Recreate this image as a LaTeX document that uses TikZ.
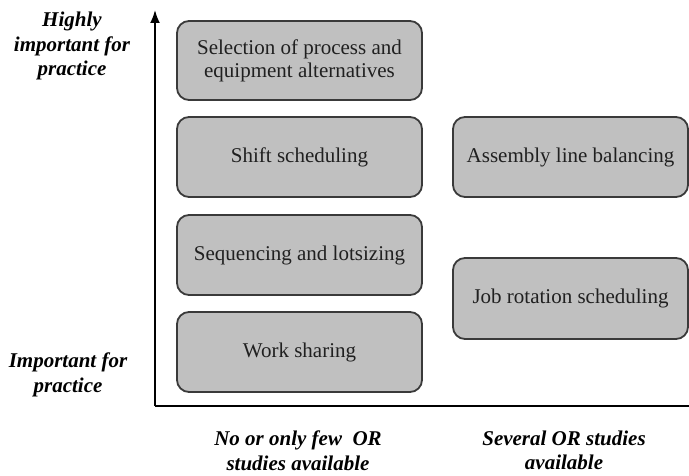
\documentclass[tikz,border=0pt]{standalone}
\usepackage{fontspec}
\setmainfont{Liberation Serif}
\usetikzlibrary{arrows.meta}
\definecolor{boxfill}{HTML}{C0C0C0}
\definecolor{boxline}{HTML}{3A3A3A}
\definecolor{boxtext}{HTML}{202020}
\begin{document}
\begin{tikzpicture}[x=1pt,y=-1pt,
  topic/.style={draw=boxline, line width=1.8pt, fill=boxfill, rounded corners=12pt,
    minimum height=80pt, inner sep=0pt, align=center, text=boxtext,
    font=\fontsize{21}{23}\selectfont},
  leftcol/.style={topic, minimum width=245pt},
  rightcol/.style={topic, minimum width=235pt},
  axislabel/.style={align=center, inner sep=0pt,
    font=\fontsize{21}{24.5}\selectfont\bfseries\itshape},
  axis/.style={line width=1.8pt, draw=black}]
  \useasboundingbox (0,0) rectangle (689,476);

  % axes
  \coordinate (origin) at (155,406);
  \coordinate (ytop) at (155,10);
  \coordinate (xend) at (689,406);
  \draw[axis] (xend) -- (origin);
  \draw[axis, -{Latex[length=13pt,width=10pt]}] (origin) -- (ytop);

  % problem classes
  \node[leftcol, minimum height=79pt] (sel) at (299.5,60.5)
    {Selection of process and\\equipment alternatives};
  \node[leftcol] (shift) at (299.5,157) {Shift scheduling};
  \node[leftcol] (seq) at (299.5,255) {Sequencing and lotsizing};
  \node[leftcol] (work) at (299.5,352) {Work sharing};
  \node[rightcol] (alb) at (570.5,157) {Assembly line balancing};
  \node[rightcol, minimum height=81pt] (jrs) at (570.5,298.5) {Job rotation scheduling};

  % axis labels
  \node[axislabel] (hi) at (72,46) {Highly\\important for\\practice};
  \node[axislabel] (lo) at (68,375) {Important for\\practice};
  \node[axislabel] (few) at (298,450.5) {No or only few~ OR\\studies available};
  \node[axislabel] (sev) at (564,450.5) {Several OR studies\\available};
\end{tikzpicture}
\end{document}
